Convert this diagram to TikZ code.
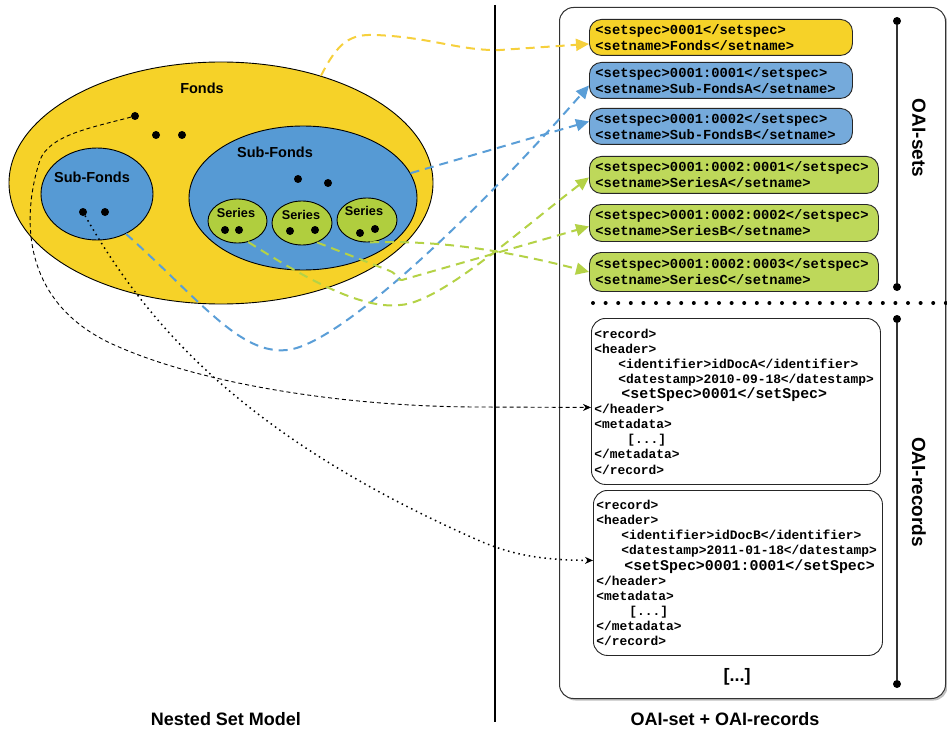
\documentclass[tikz,border=0pt]{standalone}
\usepackage{fontspec}
\setmainfont{Liberation Sans}
\setmonofont{Liberation Mono}
\usetikzlibrary{shapes.geometric,arrows.meta,calc,shadows}
\definecolor{yel}{RGB}{246,210,40}
\definecolor{blueE}{RGB}{86,154,212}
\definecolor{blueB}{RGB}{117,170,219}
\definecolor{greenE}{RGB}{176,206,62}
\definecolor{greenB}{RGB}{190,216,90}
\definecolor{yelL}{RGB}{246,208,60}
\definecolor{blueL}{RGB}{90,158,215}
\definecolor{greenL}{RGB}{180,210,70}
\begin{document}
\begin{tikzpicture}[x=1pt,y=-1pt,
  ell/.style={ellipse, draw=black, line width=0.9pt, inner sep=0pt},
  lab/.style={font=\bfseries\fontsize{14.5}{16}\selectfont},
  serlab/.style={font=\bfseries\fontsize{12.7}{14}\selectfont},
  dot/.style={circle, fill=black, inner sep=0pt, minimum size=8pt},
  setbox/.style={draw=black!85, line width=0.9pt, rounded corners=12pt, anchor=north west,
     minimum height=36pt, inner xsep=6pt, inner ysep=0pt, align=left,
     font=\ttfamily\bfseries\fontsize{13.8}{16}\selectfont},
  recbox/.style={draw=black!85, line width=0.9pt, rounded corners=14pt, anchor=north west,
     fill=white, inner xsep=3pt, inner ysep=0pt, align=left,
     font=\ttfamily\bfseries\fontsize{12.9}{15.1}\selectfont},
  big/.style={font=\bfseries\fontsize{18}{20}\selectfont},
  side/.style={font=\bfseries\fontsize{19}{21}\selectfont, rotate=-90},
  conn/.style={dash pattern=on 9pt off 6pt, line width=2pt, -{Triangle[length=13pt,width=12pt]}},
  bdash/.style={dash pattern=on 4pt off 3pt, line width=0.9pt, -{Stealth[length=8pt,width=7pt]}},
  bdot/.style={dash pattern=on 1.5pt off 3.8pt, line width=1.5pt, -{Stealth[length=8pt,width=7pt]}},
  brk/.style={line width=1.4pt, black!80},
  enddot/.style={circle, fill=black, inner sep=0pt, minimum size=8pt}
]
\useasboundingbox (0,0) rectangle (947,730);

% ---------- right frame ----------
\node[draw=black!80, line width=1pt, rounded corners=14pt, anchor=north west,
      minimum width=386pt, minimum height=691pt, fill=white,
      drop shadow={shadow xshift=2pt,shadow yshift=-2pt,opacity=.25,fill=black}] (outer) at (559,7) {};

% divider
\coordinate (dvT) at (495,5);
\coordinate (dvB) at (495,722);
\draw[line width=1.5pt] (dvT) -- (dvB);

% set boxes
\node[setbox, fill=yel, minimum width=263pt, text width=251pt] (bF) at (589,19)
  {<setspec>0001</setspec>\\<setname>Fonds</setname>};
\node[setbox, fill=blueB, minimum width=263pt, text width=251pt] (bSA) at (589,62)
  {<setspec>0001:0001</setspec>\\<setname>Sub-FondsA</setname>};
\node[setbox, fill=blueB, minimum width=263pt, text width=251pt] (bSB) at (589,108)
  {<setspec>0001:0002</setspec>\\<setname>Sub-FondsB</setname>};
\node[setbox, fill=greenB, minimum width=289pt, text width=277pt, minimum height=37pt] (bA) at (589,156)
  {<setspec>0001:0002:0001</setspec>\\<setname>SeriesA</setname>};
\node[setbox, fill=greenB, minimum width=289pt, text width=277pt, minimum height=37pt] (bB) at (589,204)
  {<setspec>0001:0002:0002</setspec>\\<setname>SeriesB</setname>};
\node[setbox, fill=greenB, minimum width=289pt, text width=277pt, minimum height=39pt] (bC) at (589,252)
  {<setspec>0001:0002:0003</setspec>\\<setname>SeriesC</setname>};

% separator
\coordinate (sepL) at (593,303);
\coordinate (sepR) at (947,303);
\draw[line width=4pt, line cap=round, dash pattern=on 0pt off 12.6pt] (sepL) -- (sepR);

% brackets
\node[enddot] (s1) at (897,21) {};
\node[enddot] (s2) at (897,287) {};
\draw[brk] (s1) -- (s2);
\node[side] (lsets) at (919,138) {OAI-sets};
\node[enddot] (r1) at (897,319) {};
\node[enddot] (r2) at (897,684) {};
\draw[brk] (r1) -- (r2);
\node[side] (lrec) at (919,492) {OAI-records};

% records
\node[recbox, minimum width=289pt, minimum height=166pt, text width=283pt] (recA) at (591,318)
  {<record>\\
   <header>\\
   \hspace*{24pt}<identifier>idDocA</identifier>\\
   \hspace*{24pt}<datestamp>2010-09-18</datestamp>\\
   \hspace*{27pt}{\fontsize{14.9}{15.1}\selectfont<setSpec>0001</setSpec>}\\
   </header>\\
   <metadata>\\
   \hspace*{33pt}[...]\\
   </metadata>\\
   </record>};
\node[recbox, minimum width=289pt, minimum height=165pt, text width=283pt] (recB) at (593,490)
  {<record>\\
   <header>\\
   \hspace*{25pt}<identifier>idDocB</identifier>\\
   \hspace*{25pt}<datestamp>2011-01-18</datestamp>\\
   \hspace*{28pt}{\fontsize{14.9}{15.1}\selectfont<setSpec>0001:0001</setSpec>}\\
   </header>\\
   <metadata>\\
   \hspace*{33pt}[...]\\
   </metadata>\\
   </record>};
\node[big] (etc) at (737,677) {[...]};

% bottom labels
\node[big] (lnsm) at (226,719) {Nested Set Model};
\node[big] (loai) at (725,719) {OAI-set + OAI-records};

% ---------- left: nested sets ----------
\node[ell, fill=yel, minimum width=424pt, minimum height=242pt] (fonds) at (221,183) {};
\node[ell, fill=blueE, minimum width=112pt, minimum height=92pt] (sfA) at (97,194) {};
\node[ell, fill=blueE, minimum width=228pt, minimum height=144pt] (sfB) at (303,198) {};
\node[ell, fill=greenE, minimum width=59pt, minimum height=44pt] (ser1) at (237.5,221) {};
\node[ell, fill=greenE, minimum width=60pt, minimum height=44pt] (ser2) at (302,223) {};
\node[ell, fill=greenE, minimum width=60pt, minimum height=44pt] (ser3) at (367,220) {};

\node[lab] (tF) at (202,88) {Fonds};
\node[lab] (tSA) at (92,177) {Sub-Fonds};
\node[lab] (tSB) at (275,152) {Sub-Fonds};
\node[serlab] (t1) at (236,213) {Series};
\node[serlab] (t2) at (301,215) {Series};
\node[serlab] (t3) at (364,211) {Series};

\node[dot] (fd1) at (135,116) {};
\node[dot] (fd2) at (156,135) {};
\node[dot] (fd3) at (182,135) {};
\node[dot] (sa1) at (83,212) {};
\node[dot] (sa2) at (105,212) {};
\node[dot] (sb1) at (298,179) {};
\node[dot] (sb2) at (328,183) {};
\node[dot] (a1) at (225,230) {};
\node[dot] (a2) at (239,230) {};
\node[dot] (b1) at (290,231) {};
\node[dot] (b2) at (315,230) {};
\node[dot] (c1) at (360,233) {};
\node[dot] (c2) at (375,229) {};

% ---------- connectors ----------
\draw[conn, yelL] (fonds.47) .. controls (338,42) and (350,34) .. (375,35)
   .. controls (430,37) and (460,51) .. (500,50) -- ([yshift=-6.5pt]bF.west);
\draw[conn, blueL] (sfB.13) -- ([yshift=5pt]bSB.west);
\draw[conn, blueL] (sfA.-54) .. controls (200,300) and (240,355) .. (287,350)
   .. controls (340,345) and (480,210) .. ([yshift=-5pt]bSA.west);
\draw[conn, greenL] (ser1.-63) .. controls (300,275) and (360,310) .. (400,305)
   .. controls (440,303) and (520,230) .. ([yshift=-2.5pt]bA.west);
\draw[conn, greenL] (ser2.-52) -- (390,271) .. controls (398,274) and (396,281) .. (402,280) -- ([yshift=-3.5pt]bB.west);
\draw[conn, greenL] (ser3.-82) .. controls (420,241) and (480,244) .. ([yshift=0pt]bC.west);
\draw[bdash] (fd1) .. controls (90,128) and (50,135) .. (40,160)
   .. controls (22,215) and (20,300) .. (110,343)
   .. controls (200,385) and (350,407) .. (480,407) -- ([yshift=-6pt]recA.west);
\draw[bdot] (sa1) .. controls (150,330) and (250,440) .. (480,541)
   .. controls (515,556) and (545,560) .. ([yshift=12.5pt]recB.west);
\end{tikzpicture}
\end{document}
